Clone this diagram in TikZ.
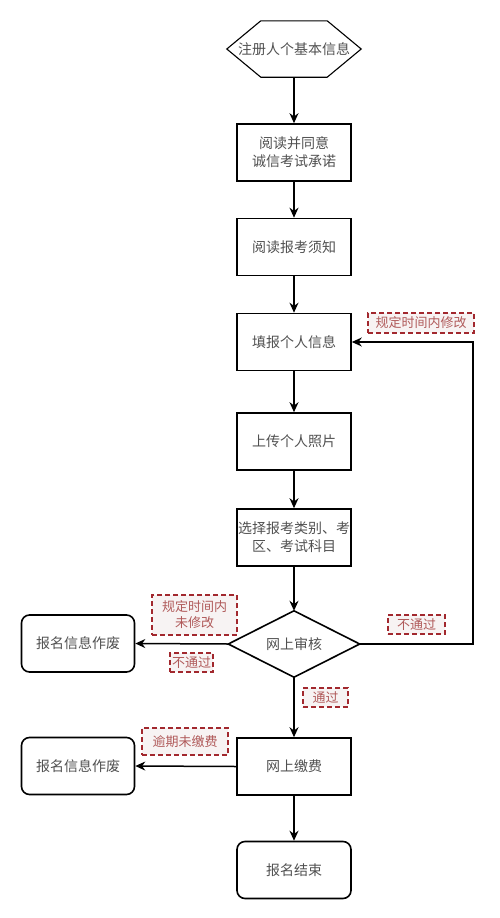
\documentclass[tikz,border=0pt]{standalone}
\usepackage{fontspec}
\setmainfont{Noto Sans CJK SC}
\usetikzlibrary{arrows.meta}
\definecolor{txt}{HTML}{505050}
\definecolor{lab}{HTML}{A2282E}
\definecolor{labtxt}{HTML}{B05A5A}
\definecolor{labbg}{HTML}{F7F3F3}
\begin{document}
\begin{tikzpicture}[x=1pt,y=-1pt,
  every node/.style={font=\fontsize{14}{18}\selectfont, text=txt, align=center, inner sep=0pt},
  box/.style={draw=black, line width=1.6pt, minimum width=114pt, minimum height=57pt},
  rbox/.style={box, rounded corners=8pt},
  lbl/.style={draw=lab, fill=labbg, dashed, dash pattern=on 5pt off 3pt, line width=1.6pt, text=labtxt, font=\fontsize{13}{16}\selectfont},
  arr/.style={draw=black, line width=1.5pt, -{Stealth[length=10pt,width=9pt]}}
]
\path[use as bounding box] (0,0) rectangle (500,918);
% hexagon
\node[minimum width=134pt, minimum height=56pt] (hex) at (294,49) {注册人个基本信息};
\draw[line width=1.1pt] (hex.west) -- ([xshift=34pt]hex.north west) -- ([xshift=-34pt]hex.north east) -- (hex.east) -- ([xshift=-34pt]hex.south east) -- ([xshift=34pt]hex.south west) -- cycle;
\node[box] (b1) at (294,152.5) {阅读并同意\\诚信考试承诺};
\node[box] (b2) at (294,247) {阅读报考须知};
\node[box] (b3) at (294,342) {填报个人信息};
\node[box] (b4) at (294,441.5) {上传个人照片};
\node[box] (b5) at (294,537.5) {选择报考类别、考\\区、考试科目};
\node[minimum width=131pt, minimum height=66pt] (dia) at (294,644) {网上审核};
\draw[line width=1.6pt] (dia.west) -- (dia.north) -- (dia.east) -- (dia.south) -- cycle;
\node[rbox, minimum width=113pt] (x1) at (78,643.5) {报名信息作废};
\node[box] (b6) at (294,766.5) {网上缴费};
\node[rbox, minimum width=113pt] (x2) at (78,766) {报名信息作废};
\node[rbox] (end) at (294,870) {报名结束};
\coordinate (rt) at (473,644);
% connectors
\draw[arr] (hex.south) -- (b1.north);
\draw[arr] (b1.south) -- (b2.north);
\draw[arr] (b2.south) -- (b3.north);
\draw[arr] (b3.south) -- (b4.north);
\draw[arr] (b4.south) -- (b5.north);
\draw[arr] (b5.south) -- (dia.north);
\draw[arr] (dia.west) -- (x1.east);
\draw[arr] (dia.south) -- (b6.north);
\draw[arr] (dia.east) -- (rt) |- (b3.east);
\draw[arr] (b6.west) -- (x2.east);
\draw[arr] (b6.south) -- (end.north);
% labels
\node[lbl, minimum width=106pt, minimum height=20pt] (l1) at (421,323) {规定时间内修改};
\node[lbl, minimum width=57pt, minimum height=19pt] (l2) at (416.5,624.5) {不通过};
\node[lbl, minimum width=85pt, minimum height=40pt] (l3) at (194.5,615) {规定时间内\\未修改};
\node[lbl, minimum width=43pt, minimum height=19pt] (l4) at (191.5,662.5) {不通过};
\node[lbl, minimum width=45pt, minimum height=19pt] (l5) at (325.5,697.5) {通过};
\node[lbl, minimum width=86pt, minimum height=27pt] (l6) at (185,741.5) {逾期未缴费};
\end{tikzpicture}
\end{document}
